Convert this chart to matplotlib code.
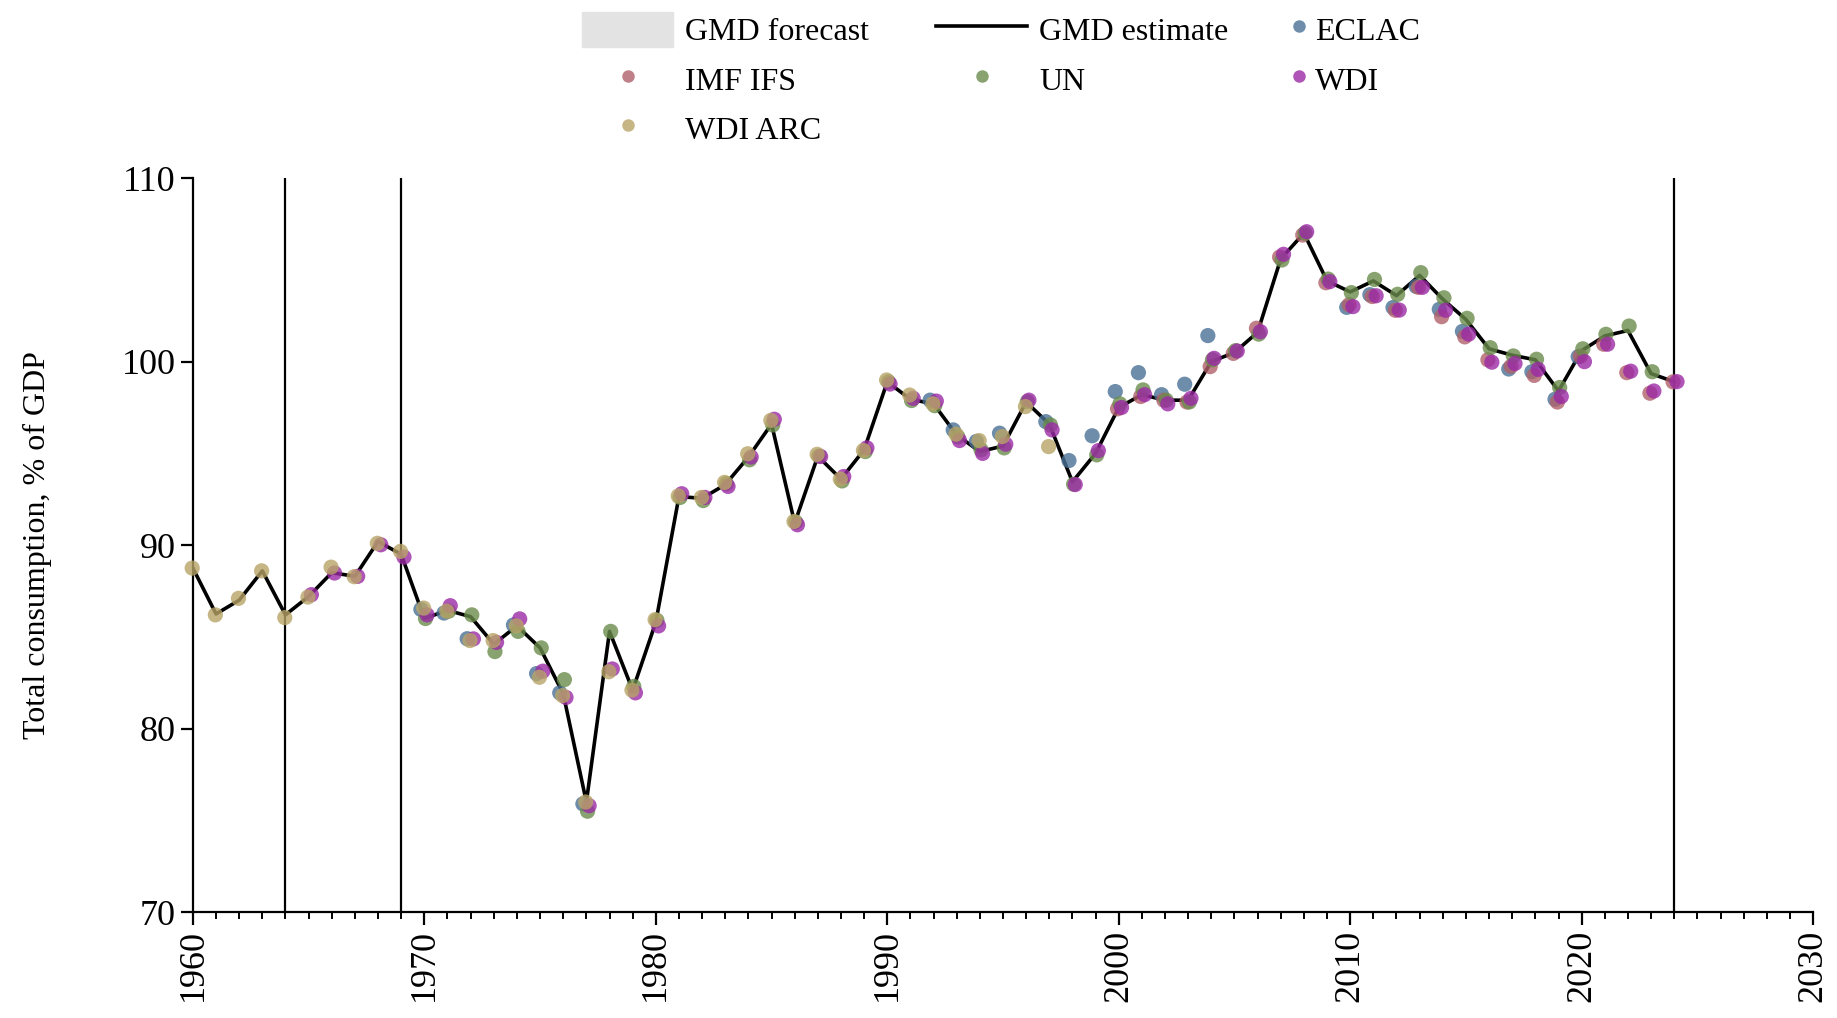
import matplotlib
matplotlib.use("Agg")
import matplotlib.pyplot as plt
from matplotlib.patches import Patch
from matplotlib.lines import Line2D

plt.rcParams['font.family'] = ['Liberation Serif', 'DejaVu Serif']

# GMD estimate (line)
gmd_years = list(range(1960, 2025))
gmd_vals = [88.75, 86.25, 87.0, 88.6, 86.2, 87.2, 88.5, 88.3, 90.2, 89.5,
            86.0, 86.45, 86.1, 84.6, 85.6, 84.4, 81.9, 76.0, 85.3, 82.1,
            85.8, 92.65, 92.55, 93.3, 94.8, 96.6, 91.2, 94.85, 93.6, 95.2,
            98.9, 97.95, 97.7, 96.0, 95.1, 95.4, 97.8, 96.6, 93.45, 95.0,
            97.5, 98.2, 97.9, 97.9, 100.0, 100.5, 101.6, 105.6, 107.0, 104.4,
            103.8, 104.4, 103.6, 104.7, 103.4, 102.3, 100.7, 100.35, 100.1, 98.4,
            100.6, 101.4, 101.7, 99.35, 98.9]

# ECLAC
eclac_years = [1970, 1971, 1972, 1974, 1975, 1976, 1977,
               1992, 1993, 1994, 1995, 1997, 1998, 1999, 2000, 2001, 2002, 2003, 2004,
               2010, 2011, 2012, 2013, 2014, 2015, 2017, 2018, 2019, 2020]
eclac_vals = [86.5, 86.3, 84.9, 85.65, 83.0, 81.95, 75.9,
              97.9, 96.28, 95.65, 96.1, 96.73, 94.61, 95.96, 98.37, 99.4, 98.2, 98.77, 101.42,
              102.96, 103.65, 102.95, 104.1, 102.85, 101.65, 99.6, 99.45, 97.95, 100.27]

# IMF IFS
imf_years = list(range(2000, 2025))
imf_vals = [97.43, 98.1, 97.9, 97.8, 99.73, 100.45, 101.82, 105.7, 106.9, 104.3,
            103.1, 103.55, 102.8, 104.05, 102.45, 101.35, 100.1, 99.75, 99.25, 97.8,
            100.3, 100.95, 99.4, 98.28, 98.9]

# UN
un_years = list(range(1970, 2024))
un_vals = [86.0, 86.4, 86.2, 84.2, 85.3, 84.4, 82.67, 75.5, 85.3, 82.3,
           85.9, 92.6, 92.43, 93.35, 94.65, 96.55, 91.25, 94.85, 93.5, 95.1,
           98.9, 97.88, 97.6, 95.9, 95.2, 95.3, 97.82, 96.55, 93.32, 94.92,
           97.7, 98.46, 97.9, 97.8, 100.1, 100.6, 101.5, 105.54, 107.0, 104.5,
           103.76, 104.48, 103.67, 104.85, 103.48, 102.36, 100.76, 100.31, 100.13, 98.59,
           100.7, 101.49, 101.94, 99.45]

# WDI
wdi_years = list(range(1965, 2025))
wdi_vals = [87.3, 88.48, 88.3, 90.02, 89.35,
            86.2, 86.7, 84.89, 84.7, 85.98, 83.13, 81.7, 75.8, 83.25, 81.95,
            85.6, 92.8, 92.6, 93.2, 94.8, 96.86, 91.11, 94.83, 93.74, 95.3,
            98.78, 98.0, 97.85, 95.7, 95.0, 95.5, 97.9, 96.28, 93.3, 95.15,
            97.5, 98.2, 97.7, 98.0, 100.18, 100.58, 101.63, 105.85, 107.08, 104.36,
            103.0, 103.59, 102.81, 104.05, 102.8, 101.5, 99.97, 99.9, 99.58, 98.1,
            100.0, 100.95, 99.48, 98.4, 98.91]

# WDI ARC
arc_years = list(range(1960, 1998))
arc_vals = [88.75, 86.2, 87.1, 88.6, 86.05, 87.17, 88.8, 88.28, 90.1, 89.66,
            86.57, 86.4, 84.8, 84.8, 85.6, 82.8, 81.8, 76.0, 83.1, 82.1,
            85.94, 92.68, 92.6, 93.42, 94.98, 96.8, 91.29, 94.95, 93.6, 95.16,
            99.0, 98.18, 97.7, 96.05, 95.7, 95.92, 97.55, 95.37]

regime_breaks = [1964, 1969, 2024]

sources = [
    ("ECLAC", eclac_years, eclac_vals, "#4a7196", -0.15),
    ("IMF IFS", imf_years, imf_vals, "#b0606a", -0.05),
    ("UN", un_years, un_vals, "#6a8c4c", 0.05),
    ("WDI", wdi_years, wdi_vals, "#9c2aa6", 0.12),
    ("WDI ARC", arc_years, arc_vals, "#b8a468", -0.03),
]

fig = plt.figure(figsize=(18.37, 10.18), dpi=100)
ax = fig.add_axes([0.105, 0.104, 0.882, 0.721])

for yr in regime_breaks:
    ax.axvline(yr, color="black", lw=1.6, zorder=1)

ax.plot(gmd_years, gmd_vals, color="black", lw=2.6, zorder=2)

for name, yrs, vals, col, off in sources:
    ax.scatter([y + off for y in yrs], vals, s=120, color=col, alpha=0.8,
               edgecolors="none", zorder=3, clip_on=False)

ax.set_xlim(1960, 2030)
ax.set_ylim(70, 110)
ax.set_xticks(range(1960, 2031, 10))
ax.set_xticks(range(1960, 2031), minor=True)
ax.set_yticks([70, 80, 90, 100, 110])
ax.tick_params(axis="x", labelrotation=90, labelsize=26, length=9, width=1.6)
ax.tick_params(axis="x", which="minor", length=5, width=1.4)
ax.tick_params(axis="y", labelsize=26, length=9, width=1.6)
for s in ["top", "right"]:
    ax.spines[s].set_visible(False)
for s in ["left", "bottom"]:
    ax.spines[s].set_linewidth(1.6)

ax.set_ylabel("Total consumption, % of GDP", fontsize=23, labelpad=50)

def dot(col):
    return Line2D([], [], marker="o", ls="none", color=col, alpha=0.8,
                  markersize=9, markeredgewidth=0)

h = {
    "GMD forecast": Patch(facecolor="#e3e3e3", edgecolor="#e3e3e3"),
    "GMD estimate": Line2D([], [], color="black", lw=2.6),
}
for name, yrs, vals, col, off in sources:
    h[name] = dot(col)

# first two legend columns
order1 = ["GMD forecast", "IMF IFS", "WDI ARC", "GMD estimate", "UN"]
fig.legend([h[k] for k in order1], order1, ncol=2, loc="upper left",
           bbox_to_anchor=(0.317, 0.988), frameon=False, fontsize=23,
           handlelength=2.85, handleheight=1.3, columnspacing=2.1,
           labelspacing=0.45, handletextpad=0.37, borderpad=0,
           borderaxespad=0)

# third column with short handles
order2 = ["ECLAC", "WDI"]
fig.legend([h[k] for k in order2], order2, ncol=1, loc="upper left",
           bbox_to_anchor=(0.7017, 0.988), frameon=False, fontsize=23,
           handlelength=0.6, handleheight=1.3, labelspacing=0.45,
           handletextpad=0.2, borderpad=0, borderaxespad=0)

fig.savefig("out.png", dpi=100)
